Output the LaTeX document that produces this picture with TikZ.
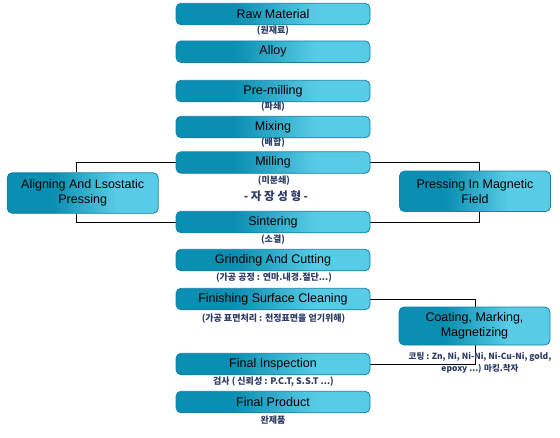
\documentclass[tikz,border=0pt]{standalone}
\usepackage{fontspec}
\setmainfont{Liberation Sans}
\newfontfamily\kr{Noto Sans CJK KR}
\usetikzlibrary{calc,backgrounds}
\definecolor{gdk}{HTML}{0A8EB1}
\definecolor{glt}{HTML}{58CCE6}
\definecolor{bdr}{HTML}{1580A8}
\definecolor{kcol}{HTML}{2C3A66}
\pgfdeclarehorizontalshading{boxgrad}{100bp}{color(0bp)=(gdk); color(40bp)=(gdk); color(61bp)=(glt); color(100bp)=(glt)}
\tikzset{
 procbox/.style={shading=boxgrad, draw=bdr, line width=0.8pt, rounded corners=5pt, inner sep=0pt,
   minimum width=194pt, minimum height=21.5pt, font=\fontsize{12.5}{14}\selectfont, text=black},
 sidebox/.style={procbox, minimum width=151pt, minimum height=40.5pt, align=center,
   font=\fontsize{12.5}{15}\selectfont},
 krlab/.style={font=\kr\bfseries\fontsize{9}{12}\selectfont, text=kcol, inner sep=0pt, align=center},
 conn/.style={draw=black, line width=0.9pt}
}
\begin{document}
\begin{tikzpicture}[x=1pt,y=-1pt]
\useasboundingbox (0,0) rectangle (560,437);
% main column
\node[procbox] (raw)    at (273,14)    {Raw Material};
\node[procbox] (alloy)  at (273,51.7)  {Alloy};
\node[procbox] (premil) at (273,91)    {Pre-milling};
\node[procbox] (mix)    at (273,127)   {Mixing};
\node[procbox] (mill)   at (273,162.5) {Milling};
\node[procbox] (sinter) at (273,222)   {Sintering};
\node[procbox] (grind)  at (273,260)   {Grinding And Cutting};
\node[procbox] (finish) at (273,299)   {Finishing Surface Cleaning};
\node[procbox] (finsp)  at (273,364)   {Final Inspection};
\node[procbox] (fprod)  at (273,402)   {Final Product};
% side boxes
\node[sidebox] (align)  at (82.7,193)  {Aligning And Lsostatic\\Pressing};
\node[sidebox] (press)  at (475,191.3) {Pressing In Magnetic\\Field};
\node[sidebox, minimum height=38pt] (coat) at (474.5,326) {Coating, Marking,\\Magnetizing};
% labels
\node[krlab] (l1) at (273,31)  {(원재료)};
\node[krlab] (l2) at (273,107) {(파쇄)};
\node[krlab] (l3) at (273,143) {(배합)};
\node[krlab] (l4) at (274,181) {(미분쇄)};
\node[krlab, font=\kr\bfseries\fontsize{11.5}{13}\selectfont] (l5) at (276,196) {- 자 장 성 형 -};
\node[krlab] (l6) at (273,240) {(소결)};
\node[krlab] (l7) at (274,278) {(가공 공정 : 연마.내경.절단...)};
\node[krlab] (l8) at (273.5,319) {(가공 표면처리 :  천정표면을 얻기위해)};
\node[krlab] (l9) at (273.5,382) {검사 ( 신뢰성 : P.C.T,  S.S.T ...)};
\node[krlab] (l10) at (273,420) {완제품};
\node[krlab, font=\kr\bfseries\fontsize{8.5}{12}\selectfont] (l11) at (480,363) {코팅 : Zn, Ni, Ni-Ni, Ni-Cu-Ni, gold,\\epoxy ...) 마킹.착자};
% connectors
\coordinate (cl) at (475.7,330);
\begin{pgfonlayer}{background}
\draw[conn] (mill.west) -| ($(align.north)+(-6,0)$);
\draw[conn] ($(align.south)+(-6,0)$) |- (sinter.west);
\draw[conn] (mill.east) -| ($(press.north)+(4.3,0)$);
\draw[conn] ($(press.south)+(4.3,0)$) |- (sinter.east);
\draw[conn] (finish.east) -| (cl) |- (finsp.east);
\end{pgfonlayer}
\end{tikzpicture}
\end{document}
